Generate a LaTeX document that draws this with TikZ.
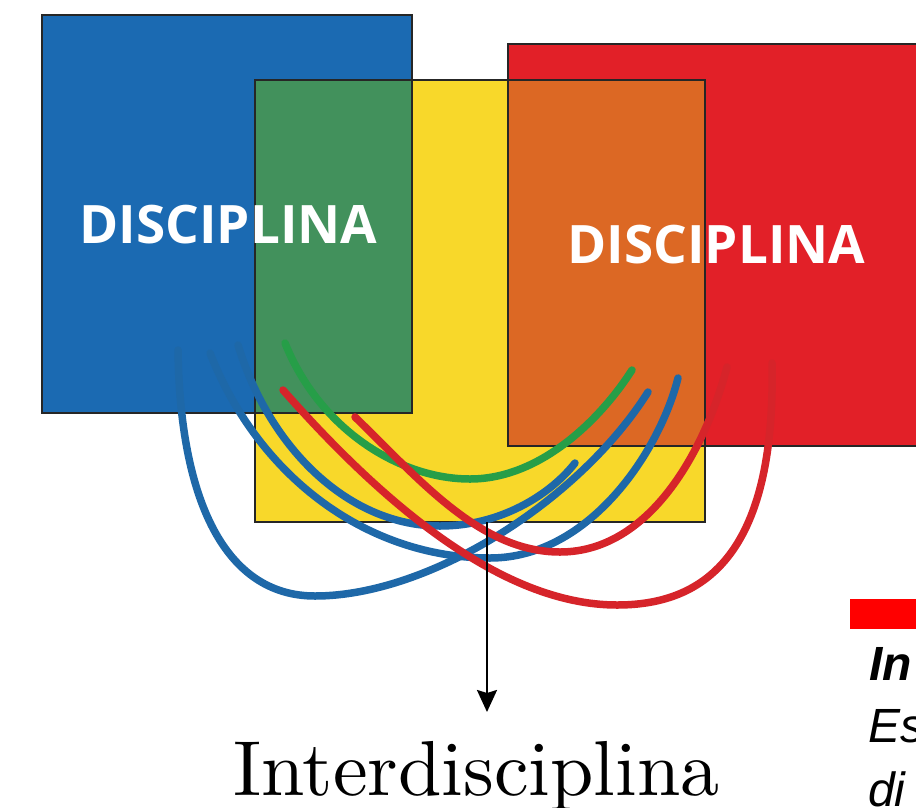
\documentclass[tikz,border=0pt]{standalone}
\usepackage{fontspec}
\newfontfamily\osans{Open Sans}
\newfontfamily\lsans{Liberation Sans}
\newfontfamily\lmten{lmroman10-regular}[Extension=.otf]
\usetikzlibrary{arrows.meta}
\definecolor{cblue}{RGB}{27,106,178}
\definecolor{cgreen}{RGB}{66,145,92}
\definecolor{cyellow}{RGB}{248,216,42}
\definecolor{corange}{RGB}{220,104,36}
\definecolor{cred}{RGB}{226,32,40}
\definecolor{lblue}{RGB}{30,104,168}
\definecolor{lred}{RGB}{214,36,42}
\definecolor{lgreen}{RGB}{38,158,72}
\definecolor{barred}{RGB}{255,0,0}
\tikzset{
  boxline/.style={draw=black!85, line width=1.6pt},
  curve/.style={line width=7.5pt, line cap=round},
  disc/.style={text=white, font=\osans\bfseries\fontsize{53}{60}\selectfont, anchor=base, inner sep=0pt},
  side/.style={anchor=base west, inner sep=0pt, font=\lsans\itshape\fontsize{48}{56}\selectfont}
}
\begin{document}
\begin{tikzpicture}[x=1pt,y=-1pt]
\useasboundingbox (0,0) rectangle (916,807);
\fill[white] (0,0) rectangle (916,807);
% box fills
\fill[cblue] (42,15) rectangle (412,413);
\fill[cred] (508,44) rectangle (916,446);
\node[fill=cyellow, minimum width=450pt, minimum height=442pt, inner sep=0pt, anchor=north west] (yel) at (255,80) {};
\fill[cgreen] (255,80) rectangle (412,413);
\fill[corange] (508,80) rectangle (705,446);
% borders
\draw[boxline] (42,15) rectangle (412,413);
\draw[boxline] (255,80) rectangle (705,522);
\draw[boxline] (916,44) -- (508,44) -- (508,446) -- (916,446);
% labels
\node[disc] (d1) at (228.5,243) {DISCIPLINA};
\node[disc] (d2) at (716.5,263) {DISCIPLINA};
% curves
\draw[curve, lblue] (178,350) .. controls (180,500) and (225,596) .. (315,596)
                              .. controls (430,596) and (580,500) .. (648,392);
\draw[curve, lblue] (210,353) .. controls (260,480) and (370,558) .. (490,558)
                              .. controls (590,558) and (660,450) .. (678,378);
\draw[curve, lblue] (238,345) .. controls (270,450) and (350,526) .. (440,526)
                              .. controls (500,526) and (550,495) .. (575,463);
\draw[curve, lgreen] (285,343) .. controls (320,430) and (400,479) .. (470,479)
                               .. controls (540,479) and (600,420) .. (632,370);
\draw[curve, lred] (283,390) .. controls (380,500) and (500,605) .. (617,605)
                             .. controls (700,605) and (776,560) .. (772,363);
\draw[curve, lred] (355,417) .. controls (420,480) and (480,552) .. (560,552)
                             .. controls (650,552) and (705,450) .. (727,367);
% bottom label and arrow
\node[anchor=base, inner sep=0pt, font=\lmten\fontsize{78}{80}\selectfont] (inter) at (476.5,795) {Interdisciplina};
\coordinate (astart) at (487,522);
\coordinate (aend) at (487,712);
\draw[line width=2.4pt, -{Stealth[length=22pt, width=20pt, inset=3pt]}] (astart) -- (aend);
% right side fragment
\fill[barred] (850,599) rectangle (916,629);
\node[side, font=\lsans\bfseries\itshape\fontsize{48}{56}\selectfont] (t1) at (869,680) {In};
\node[side] (t2) at (868,742) {Es};
\node[side] (t3) at (868,806) {di};
\end{tikzpicture}
\end{document}
